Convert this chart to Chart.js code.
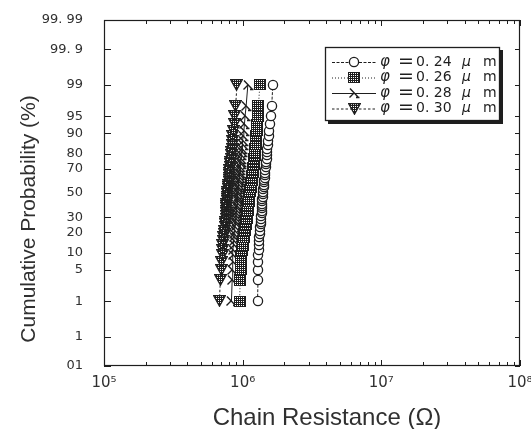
<!DOCTYPE html>
<html>
<head>
<meta charset="utf-8">
<script src="https://cdn.jsdelivr.net/npm/chart.js@4.4.1/dist/chart.umd.min.js"></script>
<style>
html, body { margin: 0; padding: 0; background: #fff; }
#wrap { width: 531px; height: 429px; }
</style>
</head>
<body>
<div id="wrap"><canvas id="myChart" width="531" height="429"></canvas></div>
<script>
// cumulative probability (%) of each sample, same for all four series
var probs = [1, 3, 5, 7, 9, 11, 13, 15, 17, 19, 21, 23, 25, 27, 29, 31, 33, 35, 37, 39, 41, 43, 45, 47, 49,
             51, 53, 55, 57, 59, 61, 63, 65, 67, 69, 71, 73, 75, 77, 79, 81, 83, 85, 87, 89, 91, 93, 95, 97, 99];

// chain resistance, in units of 1e6 ohm
var r024 = [1.28, 1.29, 1.29, 1.30, 1.30, 1.31, 1.31, 1.32, 1.32, 1.33, 1.34, 1.34, 1.35, 1.35, 1.36, 1.36, 1.37, 1.37, 1.38, 1.38, 1.39, 1.39, 1.39, 1.40, 1.40,
            1.41, 1.41, 1.42, 1.42, 1.43, 1.43, 1.44, 1.45, 1.45, 1.46, 1.47, 1.47, 1.48, 1.49, 1.50, 1.50, 1.51, 1.52, 1.53, 1.54, 1.55, 1.57, 1.59, 1.62, 1.65];
var r026 = [0.95, 0.96, 0.97, 0.98, 0.98, 0.99, 1.00, 1.01, 1.02, 1.03, 1.04, 1.04, 1.05, 1.06, 1.07, 1.07, 1.08, 1.09, 1.09, 1.10, 1.10, 1.11, 1.11, 1.12, 1.12,
            1.13, 1.13, 1.14, 1.15, 1.15, 1.16, 1.17, 1.17, 1.18, 1.19, 1.19, 1.20, 1.21, 1.21, 1.22, 1.23, 1.23, 1.24, 1.25, 1.25, 1.26, 1.27, 1.28, 1.30, 1.33];
var r028 = [0.83, 0.84, 0.84, 0.85, 0.85, 0.85, 0.86, 0.86, 0.87, 0.87, 0.88, 0.88, 0.89, 0.89, 0.90, 0.90, 0.90, 0.91, 0.91, 0.91, 0.92, 0.92, 0.92, 0.92, 0.92,
            0.93, 0.93, 0.93, 0.94, 0.94, 0.94, 0.95, 0.95, 0.96, 0.96, 0.96, 0.97, 0.97, 0.98, 0.98, 0.99, 0.99, 1.00, 1.00, 1.01, 1.02, 1.03, 1.04, 1.06, 1.09];
var r030 = [0.68, 0.69, 0.70, 0.70, 0.71, 0.72, 0.72, 0.73, 0.73, 0.74, 0.74, 0.75, 0.75, 0.75, 0.76, 0.76, 0.76, 0.77, 0.77, 0.77, 0.77, 0.78, 0.78, 0.78, 0.78,
            0.78, 0.79, 0.79, 0.79, 0.80, 0.80, 0.80, 0.81, 0.81, 0.81, 0.82, 0.82, 0.82, 0.83, 0.83, 0.83, 0.84, 0.84, 0.85, 0.85, 0.86, 0.87, 0.88, 0.89, 0.91];

var seriesNames = ['0. 24', '0. 26', '0. 28', '0. 30'];

var yTickValues = [0.01, 0.1, 1, 5, 10, 20, 30, 50, 70, 80, 90, 95, 99, 99.9, 99.99];
var yTickLabels = ['01', '1', '1', '5', '10', '20', '30', '50', '70', '80', '90', '95', '99', '99. 9', '99. 99'];
var xMin = 1e5;
var xMax = 1e8;

var ink = '#1e1e1e';
var textInk = '#303030';

/* inverse normal cdf (Acklam) */
function probit(p) {
    var a = [-3.969683028665376e+01, 2.209460984245205e+02, -2.759285104469687e+02, 1.383577518672690e+02, -3.066479806614716e+01, 2.506628277459239e+00];
    var b = [-5.447609879822406e+01, 1.615858368580409e+02, -1.556989798598866e+02, 6.680131188771972e+01, -1.328068155288572e+01];
    var c = [-7.784894002430293e-03, -3.223964580411365e-01, -2.400758277161838e+00, -2.549732539343734e+00, 4.374664141464968e+00, 2.938163982698783e+00];
    var d = [7.784695709041462e-03, 3.224671290700398e-01, 2.445134137142996e+00, 3.754408661907416e+00];
    var q, r;
    if (p < 0.02425) {
        q = Math.sqrt(-2 * Math.log(p));
        return (((((c[0] * q + c[1]) * q + c[2]) * q + c[3]) * q + c[4]) * q + c[5]) / ((((d[0] * q + d[1]) * q + d[2]) * q + d[3]) * q + 1);
    }
    if (p <= 1 - 0.02425) {
        q = p - 0.5; r = q * q;
        return (((((a[0] * r + a[1]) * r + a[2]) * r + a[3]) * r + a[4]) * r + a[5]) * q / (((((b[0] * r + b[1]) * r + b[2]) * r + b[3]) * r + b[4]) * r + 1);
    }
    q = Math.sqrt(-2 * Math.log(1 - p));
    return -(((((c[0] * q + c[1]) * q + c[2]) * q + c[3]) * q + c[4]) * q + c[5]) / ((((d[0] * q + d[1]) * q + d[2]) * q + d[3]) * q + 1);
}

function normCdf(z) {
    var t = 1 / (1 + 0.3275911 * Math.abs(z) / Math.SQRT2);
    var y = 1 - (((((1.061405429 * t - 1.453152027) * t) + 1.421413741) * t - 0.284496736) * t + 0.254829592) * t * Math.exp(-z * z / 2);
    return z >= 0 ? 0.5 * (1 + y) : 0.5 * (1 - y);
}

/* normal probability scale, values in percent */
class ProbitScale extends Chart.Scale {
    determineDataLimits() {
        this.min = this.options.min;
        this.max = this.options.max;
    }
    buildTicks() {
        return yTickValues.map(function (v) { return { value: v }; });
    }
    getLabelForValue(v) {
        return String(v);
    }
    getPixelForValue(v) {
        var z0 = probit(this.min / 100), z1 = probit(this.max / 100);
        return this.getPixelForDecimal((probit(v / 100) - z0) / (z1 - z0));
    }
    getValueForPixel(px) {
        var z0 = probit(this.min / 100), z1 = probit(this.max / 100);
        return 100 * normCdf(z0 + this.getDecimalForPixel(px) * (z1 - z0));
    }
}
ProbitScale.id = 'probit';
ProbitScale.defaults = {};
Chart.register(ProbitScale);

/* marker images */
function makeCanvas(w, h) {
    var c = document.createElement('canvas');
    c.width = w; c.height = h;
    return c;
}
function checkerFill(ctx, w, h) {
    ctx.fillStyle = '#fff';
    ctx.fillRect(0, 0, w, h);
    ctx.fillStyle = ink;
    for (var y = 0; y < h; y++) {
        for (var x = 0; x < w; x++) {
            // mostly dark with a regular grid of white dots
            if (!(x % 2 == 1 && y % 2 == 1)) ctx.fillRect(x, y, 1, 1);
        }
    }
}

var circleMark = makeCanvas(12, 12);
(function () {
    var g = circleMark.getContext('2d');
    g.beginPath(); g.arc(6, 6, 4.6, 0, Math.PI * 2);
    g.fillStyle = '#fff'; g.fill();
    g.lineWidth = 1.3; g.strokeStyle = ink; g.stroke();
})();

var squareMark = makeCanvas(12, 11);
(function () {
    var g = squareMark.getContext('2d');
    g.save(); g.beginPath(); g.rect(0.5, 0.5, 11, 10); g.clip();
    checkerFill(g, 12, 11); g.restore();
    g.lineWidth = 1; g.strokeStyle = ink; g.strokeRect(0.5, 0.5, 11, 10);
})();

var lambdaMark = makeCanvas(12, 12);
(function () {
    var g = lambdaMark.getContext('2d');
    g.strokeStyle = ink; g.lineWidth = 1.4;
    g.beginPath();
    g.moveTo(2, 1.5); g.lineTo(10.5, 10.5);
    g.moveTo(6, 6); g.lineTo(1.5, 10.5);
    g.moveTo(8, 10.5); g.lineTo(11.5, 10.5);
    g.stroke();
})();

var triMark = makeCanvas(13, 12);
(function () {
    var g = triMark.getContext('2d');
    g.beginPath(); g.moveTo(0.7, 0.7); g.lineTo(12.3, 0.7); g.lineTo(6.5, 11.3); g.closePath();
    g.save(); g.clip(); checkerFill(g, 13, 12); g.restore();
    g.lineWidth = 1.2; g.strokeStyle = ink; g.stroke();
})();

var markers = [circleMark, squareMark, lambdaMark, triMark];
var dashes = [[3, 1.5], [1, 2], [], [2.5, 2]];
var seriesValues = [r024, r026, r028, r030];

var datasets = [];
for (let s = 0; s < seriesValues.length; s++) {
    var pts = [];
    for (let i = 0; i < probs.length; i++) {
        pts.push({ x: seriesValues[s][i] * 1e6, y: probs[i] });
    }
    datasets.push({
        label: '\u03c6 = ' + seriesNames[s] + ' \u03bc m',
        data: pts,
        borderColor: ink,
        borderWidth: 1,
        borderDash: dashes[s],
        pointStyle: markers[s],
        pointRadius: 5,
        pointHoverRadius: 5,
        fill: false
    });
}

// x tick positions: 1..9 per decade
var xTicks = [];
for (let e = 5; e < 8; e++) {
    for (let m = 1; m < 10; m++) xTicks.push(m * Math.pow(10, e));
}
xTicks.push(xMax);

var sup = { '5': '\u2075', '6': '\u2076', '7': '\u2077', '8': '\u2078' };
function isDecade(v) {
    var l = Math.log10(v);
    return Math.abs(l - Math.round(l)) < 1e-9;
}

/* frame, inward tick marks, legend and axis titles */
var decorations = {
    id: 'decorations',
    beforeDatasetsDraw(chart) {
        var ctx = chart.ctx, a = chart.chartArea;
        var xs = chart.scales.x, ys = chart.scales.y;
        ctx.save();
        ctx.strokeStyle = ink;
        ctx.lineWidth = 1.2;
        ctx.strokeRect(a.left + 0.5, a.top + 0.5, a.right - a.left - 1, a.bottom - a.top - 1);
        ctx.lineWidth = 1;
        ctx.beginPath();
        xs.ticks.forEach(function (t) {
            var px = Math.round(xs.getPixelForValue(t.value)) + 0.5;
            var len = isDecade(t.value) ? 6 : 4;
            ctx.moveTo(px, a.bottom); ctx.lineTo(px, a.bottom - len);
            ctx.moveTo(px, a.top); ctx.lineTo(px, a.top + len);
        });
        ys.ticks.forEach(function (t) {
            var py = Math.round(ys.getPixelForValue(t.value)) + 0.5;
            ctx.moveTo(a.left, py); ctx.lineTo(a.left + 7, py);
            ctx.moveTo(a.right, py); ctx.lineTo(a.right - 5, py);
        });
        ctx.stroke();
        ctx.restore();
        // keep the dotted marker fills crisp
        ctx.imageSmoothingEnabled = false;
    },
    afterDraw(chart) {
        var ctx = chart.ctx;
        ctx.save();
        // legend box with shadow
        var bx = 325, by = 47, bw = 175, bh = 74;
        ctx.fillStyle = ink;
        ctx.fillRect(bx + 3, by + 3, bw, bh);
        ctx.fillStyle = '#fff';
        ctx.fillRect(bx, by, bw, bh);
        ctx.strokeStyle = ink;
        ctx.lineWidth = 1.3;
        ctx.strokeRect(bx + 0.5, by + 0.5, bw - 1, bh - 1);
        var rows = [62, 77.5, 93, 108.5];
        for (let s = 0; s < datasets.length; s++) {
            var ry = rows[s];
            ctx.lineWidth = 1;
            ctx.setLineDash(dashes[s]);
            ctx.beginPath();
            ctx.moveTo(332, ry + 0.5); ctx.lineTo(376, ry + 0.5);
            ctx.stroke();
            ctx.setLineDash([]);
            var m = markers[s];
            ctx.drawImage(m, Math.round(354 - m.width / 2), Math.round(ry - m.height / 2));
            ctx.fillStyle = ink;
            ctx.textBaseline = 'middle';
            ctx.textAlign = 'left';
            ctx.font = 'italic 15px "DejaVu Sans"';
            ctx.fillText('\u03c6', 380, ry);
            ctx.font = '19px "DejaVu Sans"';
            ctx.fillText('=', 398, ry);
            ctx.font = '14px "DejaVu Sans"';
            ctx.fillText(seriesNames[s], 416, ry);
            ctx.font = 'italic 14px "DejaVu Sans"';
            ctx.fillText('\u03bc', 462, ry);
            ctx.font = '14px "DejaVu Sans"';
            ctx.fillText('m', 483, ry);
        }
        // axis titles
        ctx.fillStyle = textInk;
        ctx.textAlign = 'center';
        ctx.textBaseline = 'alphabetic';
        ctx.font = '24px "Liberation Sans"';
        ctx.fillText('Chain Resistance (\u03a9)', 327, 425);
        ctx.translate(35, 219);
        ctx.rotate(-Math.PI / 2);
        ctx.font = '21px "Liberation Sans"';
        ctx.fillText('Cumulative Probability (%)', 0, 0);
        ctx.restore();
    }
};

const myChart = new Chart(document.getElementById('myChart'), {
    type: 'line',
    data: { datasets: datasets },
    plugins: [decorations],
    options: {
        responsive: false,
        animation: false,
        devicePixelRatio: 1,
        layout: { padding: { top: 20, right: 11, left: 0, bottom: 0 } },
        plugins: {
            legend: { display: false },
            tooltip: { enabled: false },
            title: { display: false }
        },
        scales: {
            x: {
                type: 'logarithmic',
                position: 'bottom',
                min: xMin,
                max: xMax,
                grid: { display: false },
                border: { display: false },
                afterBuildTicks: function (scale) {
                    scale.ticks = xTicks.map(function (v) { return { value: v, major: isDecade(v) }; });
                },
                afterFit: function (scale) {
                    scale.height = 63;
                    scale.paddingLeft = 0;
                    scale.paddingRight = 0;
                },
                ticks: {
                    autoSkip: false,
                    maxRotation: 0,
                    padding: 0,
                    color: textInk,
                    font: { family: 'DejaVu Sans', size: 15 },
                    callback: function (v) {
                        if (!isDecade(v)) return '';
                        var e = String(Math.round(Math.log10(v)));
                        return '10' + (sup[e] || e);
                    }
                }
            },
            y: {
                type: 'probit',
                position: 'left',
                min: 0.01,
                max: 99.99,
                grid: { display: false },
                border: { display: false },
                afterFit: function (scale) {
                    scale.width = 104;
                    scale.paddingTop = 0;
                    scale.paddingBottom = 0;
                },
                ticks: {
                    autoSkip: false,
                    padding: 13,
                    color: textInk,
                    font: { family: 'DejaVu Sans', size: 13 },
                    callback: function (v, i) { return yTickLabels[i]; }
                }
            }
        }
    }
});
</script>
</body>
</html>
